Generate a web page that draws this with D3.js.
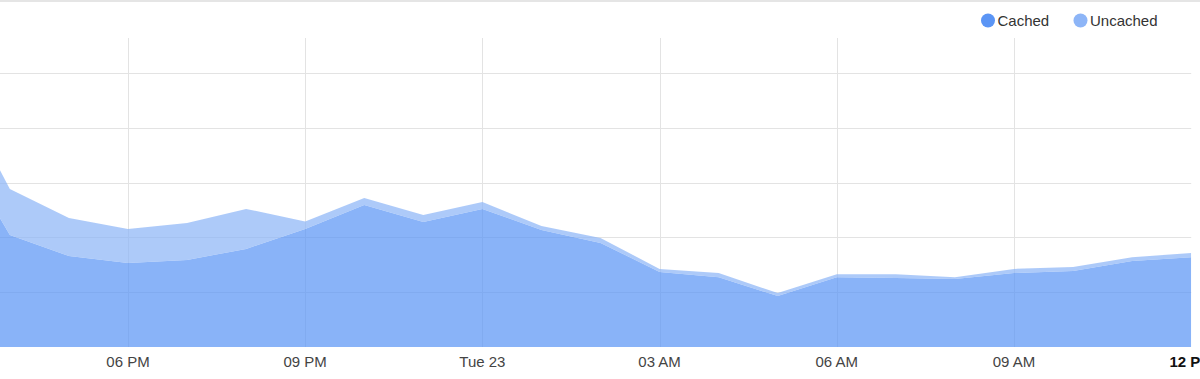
<!DOCTYPE html>
<html>
<head>
<meta charset="utf-8">
<script src="https://cdn.jsdelivr.net/npm/d3@7"></script>
<style>
  html, body { margin: 0; padding: 0; background: #fff; }
  svg { display: block; font-family: "Liberation Sans", Arial, Helvetica, sans-serif; }
</style>
</head>
<body>
<svg id="chart" width="1200" height="379"></svg>
<script>
// Hourly timestamps (Mon 22 15:00 -> Tue 23 12:00)
const hours = [
  "2018-10-22T15:00","2018-10-22T16:00","2018-10-22T17:00","2018-10-22T18:00",
  "2018-10-22T19:00","2018-10-22T20:00","2018-10-22T21:00","2018-10-22T22:00",
  "2018-10-22T23:00","2018-10-23T00:00","2018-10-23T01:00","2018-10-23T02:00",
  "2018-10-23T03:00","2018-10-23T04:00","2018-10-23T05:00","2018-10-23T06:00",
  "2018-10-23T07:00","2018-10-23T08:00","2018-10-23T09:00","2018-10-23T10:00",
  "2018-10-23T11:00","2018-10-23T12:00"
];
const cached = [77.4, 40.9, 33.2, 30.7, 31.8, 35.8, 43.1, 51.8, 45.6, 50.4, 42.7, 38.0,
                27.4, 25.5, 18.6, 25.5, 25.2, 24.8, 27.0, 27.7, 31.4, 32.8];
const uncached = [21.1, 16.8, 13.9, 12.4, 13.5, 14.6, 2.7, 2.6, 2.6, 2.5, 1.5, 1.8,
                  1.1, 1.5, 1.1, 1.1, 1.4, 0.7, 1.5, 1.5, 1.4, 1.5];
const seriesNames = ["Cached", "Uncached"];
const yTicks = [20, 40, 60, 80, 100];
const yMax = 112.8;
const viewStart = "2018-10-22T15:50";
const viewEnd = "2018-10-23T12:00";

const colors = { Cached: "#5b95f5", Uncached: "#8db5f7" };

const svg = d3.select("#chart");
const parse = d3.timeParse("%Y-%m-%dT%H:%M");
const margin = { left: 0, right: 1200 - 1191.2, top: 38, bottom: 379 - 347 };
const W = 1200, H = 379;

const x = d3.scaleTime()
  .domain([parse(viewStart), parse(viewEnd)])
  .range([0, W - margin.right]);
const y = d3.scaleLinear().domain([0, yMax]).range([H - margin.bottom, margin.top]);

const data = hours.map((h, i) => ({ t: parse(h), Cached: cached[i], Uncached: uncached[i] }));
const stack = d3.stack().keys(seriesNames)(data);

// top border line
svg.append("line").attr("x1", 0).attr("x2", W).attr("y1", 1).attr("y2", 1)
  .attr("stroke", "#dcdcdc").attr("stroke-width", 1.5);

svg.append("defs").append("clipPath").attr("id", "clip")
  .append("rect").attr("x", 0).attr("y", 0)
  .attr("width", x.range()[1]).attr("height", H - margin.bottom);

const ticks = x.ticks(d3.timeHour.every(3)).filter(d => x(d) >= 0 && x(d) <= x.range()[1] + 1);

// gridlines
const grid = svg.append("g");
grid.selectAll(".hg").data(yTicks).join("line")
  .attr("x1", 0).attr("x2", x.range()[1])
  .attr("y1", d => Math.round(y(d)) + 0.5).attr("y2", d => Math.round(y(d)) + 0.5)
  .attr("stroke", "#e3e3e3").attr("stroke-width", 1);
grid.selectAll(".vg").data(ticks.filter(d => x(d) < x.range()[1] - 2)).join("line")
  .attr("x1", d => Math.round(x(d)) + 0.5).attr("x2", d => Math.round(x(d)) + 0.5)
  .attr("y1", margin.top).attr("y2", H - margin.bottom)
  .attr("stroke", "#e3e3e3").attr("stroke-width", 1);

// areas
const area = d3.area()
  .x(d => x(d.data.t))
  .y0(d => y(d[0]))
  .y1(d => y(d[1]));
svg.append("g").attr("clip-path", "url(#clip)")
  .selectAll("path").data(stack).join("path")
  .attr("d", area)
  .attr("fill", d => colors[d.key])
  .attr("fill-opacity", 0.72);

// x axis labels
const fmt = d => d.getHours() === 0 ? d3.timeFormat("%a %d")(d) : d3.timeFormat("%I %p")(d);
svg.append("g").selectAll("text").data(ticks).join("text")
  .attr("x", d => x(d))
  .attr("y", 367)
  .attr("text-anchor", "middle")
  .attr("font-size", 15)
  .attr("font-weight", d => d.getHours() === 12 ? "bold" : "normal")
  .attr("fill", d => d.getHours() === 12 ? "#111" : "#444")
  .text(fmt);

// legend
const legendPos = [988, 1080.5];
const lg = svg.append("g");
seriesNames.forEach((name, i) => {
  lg.append("circle").attr("cx", legendPos[i]).attr("cy", 20.5).attr("r", 7)
    .attr("fill", colors[name]);
  lg.append("text").attr("x", legendPos[i] + 9.5).attr("y", 26)
    .attr("font-size", 15).attr("fill", "#333").text(name);
});
</script>
</body>
</html>
